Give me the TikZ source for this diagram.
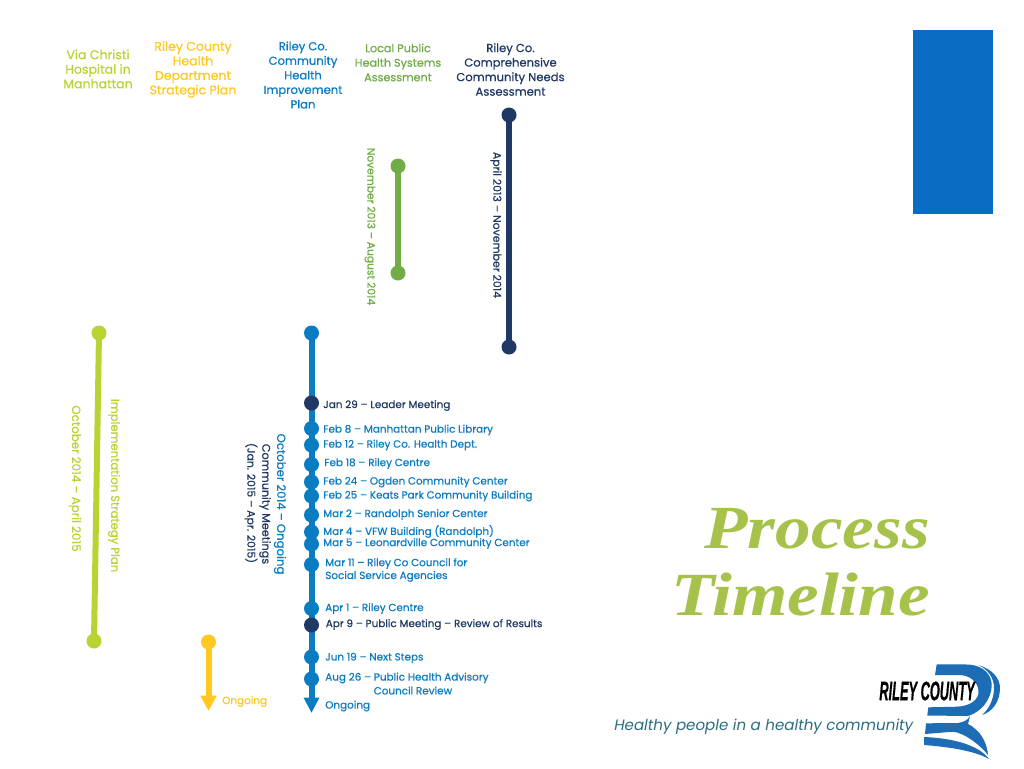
\documentclass[tikz,border=0pt]{standalone}
\usepackage{fontspec}
\usetikzlibrary{arrows.meta}
\setmainfont{Poppins}
\newfontfamily\bodyf[FakeBold=0.6]{Poppins}
\newfontfamily\titlef{Liberation Serif}
\newfontfamily\logof[FakeBold=0.8]{Liberation Sans}
\definecolor{navy}{HTML}{1F3864}
\definecolor{leaf}{HTML}{70AD47}
\definecolor{lime}{HTML}{B8D432}
\definecolor{sky}{HTML}{0A7CC1}
\definecolor{sun}{HTML}{FFC91F}
\definecolor{olive}{HTML}{A6C24A}
\definecolor{teal2}{HTML}{2A6E80}
\definecolor{panel}{HTML}{0B6CC4}
\definecolor{logoblue}{HTML}{1C6DB5}
\tikzset{
  x=0.75pt,y=-0.75pt,
  dot/.style={circle,fill=#1,draw=none,inner sep=0pt,outer sep=0pt,minimum size=11.25pt},
  bar/.style={line width=4.5pt,draw=#1,shorten <=-2pt},
  head/.style={align=center,inner sep=0pt,text=#1},
  ev/.style={font=\bodyf\fontsize{7.8}{9.6}\selectfont,anchor=west,inner sep=0pt,text=#1,align=left},
  side/.style={rotate=-90,inner sep=0pt,text=#1,align=center},
  big/.style={font=\titlef\bfseries\itshape\fontsize{46}{50}\selectfont,text=olive,anchor=base east,inner sep=0pt,xscale=1.16},
}
\newcommand{\fs}[1]{\bodyf\fontsize{#1}{10.9}\selectfont}
\begin{document}
\begin{tikzpicture}
\useasboundingbox (0,0) rectangle (1024,768);
\fill[white] (0,0) rectangle (1024,768);
\fill[panel] (912.5,30) rectangle (993,214);
% headers
\node[head=lime,font=\fs{9.4}] (h1) at (98,69) {Via Christi\\Hospital in\\Manhattan};
\node[head=sun,font=\fs{9.4}] (h2) at (193,69.5) {Riley County\\Health\\Department\\Strategic Plan};
\node[head=sky,font=\fs{8.7}] (h3) at (303,75) {Riley Co.\\Community\\Health\\Improvement\\Plan};
\node[head=leaf,font=\fs{8.4}] (h4) at (398,62.5) {Local Public\\Health Systems\\Assessment};
\node[head=navy,font=\fs{8.7}] (h5) at (510.5,69.5) {Riley Co.\\Comprehensive\\Community Needs\\Assessment};
% navy bar
\node[dot=navy] (n1) at (509,115) {};
\node[dot=navy] (n2) at (509,347) {};
\draw[bar=navy,shorten >=-2pt] (n1) -- (n2);
\node[side=navy,font=\fs{8.15}] (nl) at (496,225) {April 2013 – November 2014};
% green bar
\node[dot=leaf] (g1) at (398,166) {};
\node[dot=leaf] (g2) at (398,273) {};
\draw[bar=leaf,shorten >=-2pt] (g1) -- (g2);
\node[side=leaf,font=\fs{8}] (gl) at (370,226.5) {November 2013 – August 2014};
% lime bar
\node[dot=lime] (l1) at (99,333) {};
\node[dot=lime] (l2) at (94,641) {};
\draw[bar=lime,shorten >=-2pt] (l1) -- (l2);
\node[side=lime,font=\fs{8.7}] (ll1) at (114,485.5) {Implementation Strategy Plan};
\node[side=lime,font=\fs{8.9}] (ll2) at (75,478.5) {October 2014 – April 2015};
% yellow arrow
\node[dot=sun] (y1) at (208.5,642) {};
\coordinate (y2) at (208.5,711);
\draw[bar=sun,-{Triangle[length=11.5pt,width=11.5pt]}] (y1) -- (y2);
\node[ev=sun] (yl) at (222,701.5) {Ongoing};
% blue line
\coordinate (b0) at (311.5,713);
\node[dot=sky] (bs) at (311.5,333) {};
\draw[bar=sky,-{Triangle[length=11.5pt,width=11pt]}] (bs) -- (b0);
\node[dot=navy] (d1) at (311.5,403) {};
\node[dot=sky] (d2) at (311.5,428.5) {};
\node[dot=sky] (d3) at (311.5,445) {};
\node[dot=sky] (d4) at (311.5,464.5) {};
\node[dot=sky] (d5) at (311.5,482) {};
\node[dot=sky] (d6) at (311.5,496) {};
\node[dot=sky] (d7) at (311.5,515) {};
\node[dot=sky] (d8) at (311.5,532) {};
\node[dot=sky] (d9) at (311.5,544) {};
\node[dot=sky] (d10) at (311.5,564.5) {};
\node[dot=sky] (d11) at (311.5,608.5) {};
\node[dot=navy] (d12) at (311.5,625) {};
\node[dot=sky] (d13) at (311.5,657) {};
\node[dot=sky] (d14) at (311.5,679) {};
% events
\node[ev=navy] (e1) at (323,405.5) {Jan 29 – Leader Meeting};
\node[ev=sky] (e2) at (323,430) {Feb 8 – Manhattan Public Library};
\node[ev=sky] (e3) at (323,445) {Feb 12 – Riley Co. Health Dept.};
\node[ev=sky] (e4) at (324,463.5) {Feb 18 – Riley Centre};
\node[ev=sky] (e5) at (323,482) {Feb 24 – Ogden Community Center};
\node[ev=sky] (e6) at (323,496) {Feb 25 – Keats Park Community Building};
\node[ev=sky] (e7) at (323,514.5) {Mar 2 – Randolph Senior Center};
\node[ev=sky] (e8) at (323,531.5) {Mar 4 – VFW Building (Randolph)};
\node[ev=sky] (e9) at (323,543.5) {Mar 5 – Leonardville Community Center};
\node[ev=sky] (e10) at (325,570) {Mar 11 – Riley Co Council for\\Social Service Agencies};
\node[ev=sky] (e11) at (325,608.5) {Apr 1 – Riley Centre};
\node[ev=navy] (e12) at (325.5,624.5) {Apr 9 – Public Meeting – Review of Results};
\node[ev=sky] (e13) at (325,658) {Jun 19 – Next Steps};
\node[ev=sky] (e14) at (325,678) {Aug 26 – Public Health Advisory};
\node[ev=sky] (e15) at (373.5,690.5) {Council Review};
\node[ev=sky] (e16) at (325,706) {Ongoing};
\node[side=sky,font=\fs{8.8}] (s1) at (280,504) {October 2014 – Ongoing};
\node[side=navy,font=\fs{8.4}] (s2) at (265,504) {Community Meetings};
\node[side=navy,font=\fs{8.1}] (s3) at (251,503) {(Jan. 2015 – Apr. 2015)};
% title
\node[big] (t1) at (930,548) {Process};
\node[big] (t2) at (930,615) {Timeline};
% tagline
\node[font=\fontsize{11.3}{13}\selectfont\itshape,text=teal2,anchor=base west,inner sep=0pt] (tg) at (614,730) {Healthy people in a healthy community};
% logo
\fill[logoblue] (936.7,664.3) -- (968,664.5) .. controls (985,665.5) and (992,676) .. (991.7,686)
  .. controls (991,700) and (981,712) .. (968,716) -- (927.3,715.5) -- (928.3,707.3) -- (957,706.7)
  .. controls (970,706) and (979,700) .. (978.5,691) .. controls (978,682) and (970,675.5) .. (960,675)
  -- (935,675) -- cycle;
\fill[logoblue] (926,723.3) -- (958,723) .. controls (964,722) and (968,720) .. (970,716) -- (968,724)
  .. controls (980,730) and (987,742) .. (988,755)
  .. controls (980,745) and (965,733) .. (953,731.7) -- (925,734) -- cycle;
\fill[logoblue] (924,737) .. controls (950,738) and (978,744) .. (989,759)
  .. controls (975,751) and (950,747) .. (924,745) -- cycle;
\fill[logoblue] (978,665) .. controls (992,669) and (1000,678) .. (1000,688)
  .. controls (1000,702) and (992,712) .. (982,715)
  .. controls (989,709) and (994,699) .. (994,688)
  .. controls (994,678) and (988,669) .. (978,665) -- cycle;
\node[font=\logof\bfseries\itshape\fontsize{20}{20}\selectfont,text=black,anchor=center,inner sep=0pt,xscale=0.48] (lg) at (927,691) {RILEY COUNTY};
\end{tikzpicture}
\end{document}
